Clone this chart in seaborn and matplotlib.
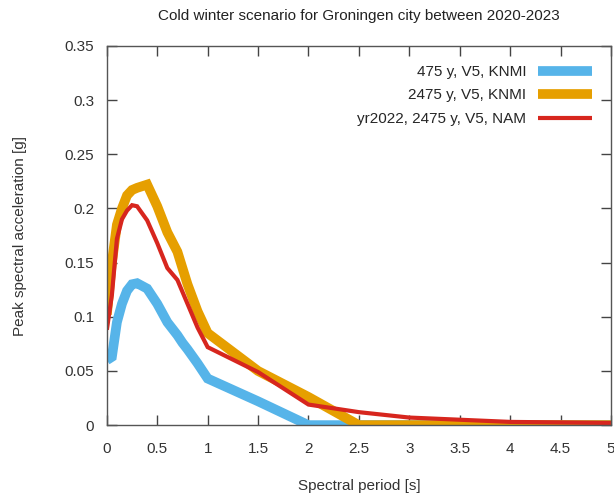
import numpy as np
import pandas as pd
import matplotlib
matplotlib.use("Agg")
import matplotlib.pyplot as plt
import seaborn as sns
from matplotlib.ticker import FuncFormatter

# ---------- DATA ----------
period_knmi475 = [0, 0.05, 0.1, 0.15, 0.2, 0.25, 0.3, 0.4, 0.5, 0.6, 0.7, 0.75, 0.8, 0.9, 1.0, 1.5, 2.0, 2.5, 3.0, 4.0, 5.0]
psa_knmi475 = [0.060, 0.063, 0.095, 0.112, 0.124, 0.130, 0.131, 0.126, 0.112, 0.095, 0.083, 0.076, 0.070, 0.057, 0.043, 0.022, 0.0, 0.0, 0.0, 0.0, 0.0]

period_knmi2475 = [0, 0.05, 0.1, 0.15, 0.2, 0.25, 0.3, 0.4, 0.5, 0.6, 0.7, 0.8, 0.9, 1.0, 1.5, 2.0, 2.5, 3.0, 4.0, 5.0]
psa_knmi2475 = [0.102, 0.150, 0.185, 0.200, 0.212, 0.217, 0.219, 0.222, 0.202, 0.178, 0.160, 0.130, 0.105, 0.085, 0.050, 0.026, 0.0, 0.0, 0.0, 0.0]

period_nam2475 = [0, 0.05, 0.1, 0.15, 0.2, 0.25, 0.3, 0.4, 0.5, 0.6, 0.7, 0.8, 0.9, 1.0, 1.5, 2.0, 2.5, 3.0, 3.5, 4.0, 5.0]
psa_nam2475 = [0.088, 0.120, 0.172, 0.190, 0.198, 0.203, 0.202, 0.189, 0.168, 0.145, 0.134, 0.112, 0.090, 0.072, 0.049, 0.019, 0.012, 0.007, 0.005, 0.003, 0.002]

labels = ["475 y, V5, KNMI", "2475 y, V5, KNMI", "yr2022, 2475 y, V5, NAM"]
colors = ["#56B4E9", "#E69F00", "#D7261E"]
widths = [7, 7, 3]

sns.set_style("white")
plt.rcParams["font.family"] = ["Liberation Sans", "DejaVu Sans"]

fig = plt.figure(figsize=(6.14, 4.99), dpi=100)
ax = fig.add_axes([0.174, 0.148, 0.821, 0.760])

series = [(period_knmi475, psa_knmi475), (period_knmi2475, psa_knmi2475), (period_nam2475, psa_nam2475)]
for (x, y), lab, col, lw in zip(series, labels, colors, widths):
    df = pd.DataFrame({"period": x, "psa": y})
    sns.lineplot(data=df, x="period", y="psa", ax=ax, color=col, linewidth=lw,
                 label=lab, solid_joinstyle="miter", solid_capstyle="butt")

ax.set_xlim(0, 5)
ax.set_ylim(0, 0.35)
ax.set_xticks(np.arange(0, 5.01, 0.5))
ax.set_yticks(np.arange(0, 0.351, 0.05))
fmt = FuncFormatter(lambda v, p: f"{v:g}")
ax.xaxis.set_major_formatter(fmt)
ax.yaxis.set_major_formatter(fmt)
ax.tick_params(direction="in", length=7, width=1, color="#444444", labelsize=11,
               top=True, right=True, bottom=True, left=True, pad=9, labelcolor="#333333")
ax.tick_params(axis="x", pad=12)
for sp in ax.spines.values():
    sp.set_color("#555555")
    sp.set_linewidth(1)

ax.set_xlabel("Spectral period [s]", fontsize=11, color="#333333", labelpad=17)
ax.set_ylabel("Peak spectral acceleration [g]", fontsize=11, color="#333333", labelpad=27)
ax.set_title("Cold winter scenario for Groningen city between 2020-2023", fontsize=11,
             color="#222222", pad=19)

leg = ax.legend(loc="upper right", frameon=False, markerfirst=False, fontsize=11,
                handlelength=3.5, handletextpad=0.8, borderaxespad=0.85, labelspacing=0.62)
for h, lw in zip(leg.get_lines(), widths):
    h.set_linewidth(lw)

fig.savefig("out.png", dpi=100)
